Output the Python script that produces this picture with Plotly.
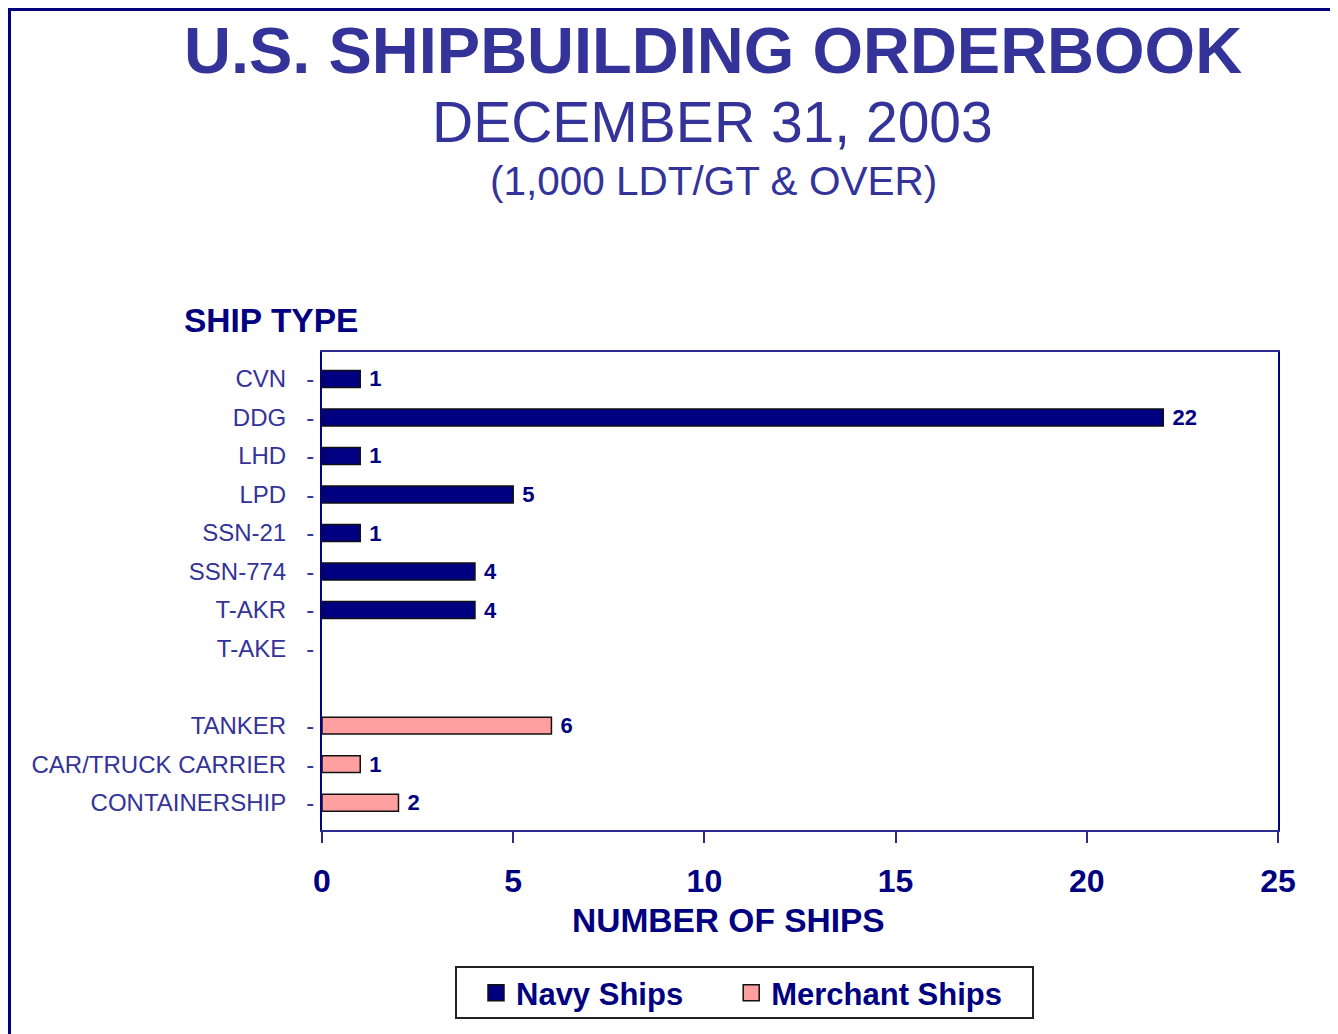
import plotly.graph_objects as go

# ---- data ----
categories = ["CVN", "DDG", "LHD", "LPD", "SSN-21", "SSN-774", "T-AKR", "T-AKE",
              "(gap)", "TANKER", "CAR/TRUCK CARRIER", "CONTAINERSHIP"]
tick_labels = ["CVN", "DDG", "LHD", "LPD", "SSN-21", "SSN-774", "T-AKR", "T-AKE",
               "", "TANKER", "CAR/TRUCK CARRIER", "CONTAINERSHIP"]
navy_cats = ["CVN", "DDG", "LHD", "LPD", "SSN-21", "SSN-774", "T-AKR"]
navy_vals = [1, 22, 1, 5, 1, 4, 4]
merchant_cats = ["TANKER", "CAR/TRUCK CARRIER", "CONTAINERSHIP"]
merchant_vals = [6, 1, 2]
x_ticks = [0, 5, 10, 15, 20, 25]

# ---- layout geometry (page pixels; page has an 8px body margin) ----
OFF = 8
PW, PH = 1338, 1034
L, R, T, B = 322, 1278, 352, 830

def px(x):
    return (x - L) / (R - L)

def py(y):
    return (B - y) / (B - T)

NAVY = "#000080"
TITLE_C = "#333399"
PINK = "#FF9F9F"
FONT = "Liberation Sans, Arial, sans-serif"
NB = "\u00a0"

fig = go.Figure()
fig.add_trace(go.Bar(
    y=navy_cats, x=navy_vals, orientation="h", name="Navy Ships",
    marker=dict(color=NAVY, line=dict(color="#111111", width=1.5)),
    width=0.44, text=[NB + str(v) for v in navy_vals], textposition="outside",
    constraintext="none",
    textfont=dict(family=FONT, size=22, color=NAVY, weight="bold"),
    cliponaxis=False, showlegend=False))
fig.add_trace(go.Bar(
    y=merchant_cats, x=merchant_vals, orientation="h", name="Merchant Ships",
    marker=dict(color=PINK, line=dict(color="#111111", width=1.5)),
    width=0.44, text=[NB + str(v) for v in merchant_vals], textposition="outside",
    constraintext="none",
    textfont=dict(family=FONT, size=22, color=NAVY, weight="bold"),
    cliponaxis=False, showlegend=False))
# legend entries (larger square swatches)
fig.add_trace(go.Scatter(x=[None], y=[None], mode="markers", name="Navy Ships" + NB * 5,
                         marker=dict(symbol="square", size=20, color=NAVY,
                                     line=dict(color="#111111", width=1.5))))
fig.add_trace(go.Scatter(x=[None], y=[None], mode="markers", name="Merchant Ships",
                         marker=dict(symbol="square", size=20, color=PINK,
                                     line=dict(color="#111111", width=1.5))))

fig.update_layout(
    width=PW - OFF, height=PH - OFF,
    margin=dict(l=L - OFF, r=PW - R, t=T - OFF, b=PH - B, pad=0),
    paper_bgcolor="white", plot_bgcolor="white",
    barmode="overlay",
    font=dict(family=FONT, color=TITLE_C),
    xaxis=dict(range=[0, 25], tickvals=x_ticks, ticktext=[str(v) for v in x_ticks],
               showgrid=False, zeroline=False, showline=True, linecolor="#2a2a90",
               linewidth=2, mirror=True, ticks="outside", ticklen=11, tickwidth=2,
               tickcolor="#2a2a90", ticklabelstandoff=11,
               tickfont=dict(family=FONT, size=32, color=NAVY, weight="bold")),
    yaxis=dict(type="category", categoryorder="array", categoryarray=categories,
               tickvals=categories,
               ticktext=[(t + NB * 3 + "-") if t else "" for t in tick_labels],
               range=[11.71, -0.70], showgrid=False, zeroline=False,
               showline=True, linecolor=NAVY, linewidth=2, mirror=True,
               ticks="", ticklabelstandoff=1,
               tickfont=dict(family=FONT, size=24, color=TITLE_C)),
    legend=dict(orientation="h", x=px(476), xanchor="left", y=py(993), yanchor="middle",
                borderwidth=0, bgcolor="rgba(0,0,0,0)",
                font=dict(family=FONT, size=31, color=NAVY, weight="bold")),
    annotations=[
        dict(text="<b>U.S. SHIPBUILDING ORDERBOOK</b>", x=px(713), y=py(50),
             xref="paper", yref="paper", xanchor="center", yanchor="middle",
             showarrow=False, font=dict(family=FONT, size=65, color=TITLE_C)),
        dict(text="DECEMBER 31, 2003", x=px(712), y=py(122),
             xref="paper", yref="paper", xanchor="center", yanchor="middle",
             showarrow=False, font=dict(family=FONT, size=57, color=TITLE_C)),
        dict(text="(1,000 LDT/GT &amp; OVER)", x=px(713), y=py(181),
             xref="paper", yref="paper", xanchor="center", yanchor="middle",
             showarrow=False, font=dict(family=FONT, size=40.5, color=TITLE_C)),
        dict(text="<b>SHIP TYPE</b>", x=px(182), y=py(320),
             xref="paper", yref="paper", xanchor="left", yanchor="middle",
             showarrow=False, font=dict(family=FONT, size=33.5, color=NAVY)),
        dict(text="<b>NUMBER OF SHIPS</b>", x=px(728), y=py(920),
             xref="paper", yref="paper", xanchor="center", yanchor="middle",
             showarrow=False, font=dict(family=FONT, size=33.5, color=NAVY)),
    ],
    shapes=[
        dict(type="rect", xref="paper", yref="paper",
             x0=px(9.5), x1=px(1333.5), y0=py(1045), y1=py(9.5),
             line=dict(color=NAVY, width=3), layer="below"),
        dict(type="rect", xref="paper", yref="paper",
             x0=px(456), x1=px(1033), y0=py(1018), y1=py(967),
             line=dict(color="#222222", width=2), fillcolor="white", layer="below"),
    ],
)

fig.write_html("out.html")
